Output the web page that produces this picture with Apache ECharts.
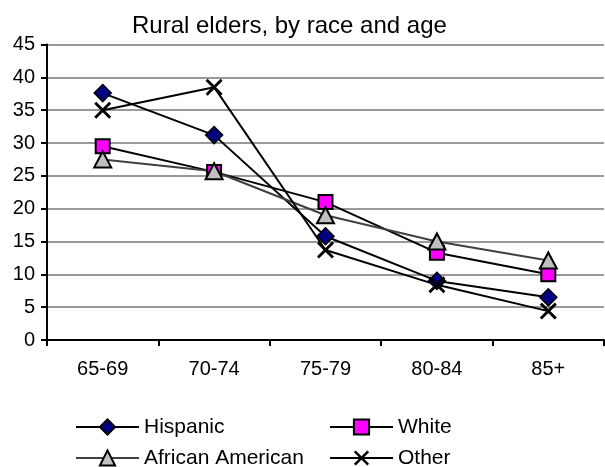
<!DOCTYPE html>
<html>
<head>
<meta charset="utf-8">
<script src="https://cdn.jsdelivr.net/npm/echarts@6/dist/echarts.min.js"></script>
<style>
html,body{margin:0;padding:0;background:#fff;}
#c{width:605px;height:467px;}
</style>
</head>
<body>
<div id="c"></div>
<script>
var categories = ['65-69', '70-74', '75-79', '80-84', '85+'];
var hispanic = [37.6, 31.2, 15.8, 9.0, 6.5];
var white = [29.5, 25.6, 21.0, 13.3, 10.0];
var africanAmerican = [27.5, 25.7, 19.0, 15.0, 12.1];
var other = [35.0, 38.5, 13.7, 8.4, 4.4];
var titleText = 'Rural elders, by race and age';

var FONT = '"Liberation Sans", Arial, sans-serif';
var xPath = 'path://M0,1.2 L1.2,0 L10,8.8 L8.8,10 Z M8.8,0 L10,1.2 L1.2,10 L0,8.8 Z';

function legendItem(name, left, top) {
  return {
    orient: 'horizontal', left: left, top: top, padding: 0,
    itemWidth: 63, itemHeight: 19,
    lineStyle: {width: 2},
    textStyle: {fontFamily: FONT, fontSize: 21, lineHeight: 22, color: '#000'},
    data: [name]
  };
}

var chart = echarts.init(document.getElementById('c'), null, {renderer: 'canvas'});
chart.setOption({
  animation: false,
  backgroundColor: '#fff',
  title: {
    text: titleText,
    left: 132, top: 14, padding: 0,
    textStyle: {fontFamily: FONT, fontSize: 24, fontWeight: 'normal', color: '#000'}
  },
  legend: [
    legendItem('Hispanic', 75, 416),
    legendItem('White', 329, 416),
    legendItem('African American', 75, 447),
    legendItem('Other', 329, 447)
  ],
  grid: {left: 47, right: 1, top: 44.5, bottom: 127},
  xAxis: {
    type: 'category',
    data: categories,
    boundaryGap: true,
    axisLine: {lineStyle: {color: '#000', width: 2}},
    axisTick: {show: true, length: 6, lineStyle: {color: '#000', width: 2}},
    axisLabel: {fontFamily: FONT, fontSize: 20, color: '#000', margin: 19},
    splitLine: {show: false}
  },
  yAxis: {
    type: 'value',
    min: 0, max: 45, interval: 5,
    axisLine: {show: true, lineStyle: {color: '#000', width: 2}},
    axisTick: {show: true, length: 6, lineStyle: {color: '#000', width: 2}},
    axisLabel: {fontFamily: FONT, fontSize: 20, color: '#000', margin: 12},
    splitLine: {show: true, lineStyle: {color: '#999', width: 2}}
  },
  series: [
    {
      name: 'Hispanic', type: 'line', data: hispanic,
      symbol: 'diamond', symbolSize: 17,
      lineStyle: {color: '#000', width: 2},
      itemStyle: {color: '#000080', borderColor: '#000', borderWidth: 1.5}
    },
    {
      name: 'White', type: 'line', data: white,
      symbol: 'rect', symbolSize: 14,
      lineStyle: {color: '#000', width: 2},
      itemStyle: {color: '#ff00ff', borderColor: '#000', borderWidth: 2}
    },
    {
      name: 'African American', type: 'line', data: africanAmerican,
      symbol: 'triangle', symbolSize: [17, 16],
      lineStyle: {color: '#404040', width: 2},
      itemStyle: {color: '#c0c0c0', borderColor: '#000', borderWidth: 2}
    },
    {
      name: 'Other', type: 'line', data: other,
      symbol: xPath, symbolSize: 17,
      lineStyle: {color: '#000', width: 2},
      itemStyle: {color: '#000', borderColor: '#000', borderWidth: 0}
    }
  ]
});
</script>
</body>
</html>
